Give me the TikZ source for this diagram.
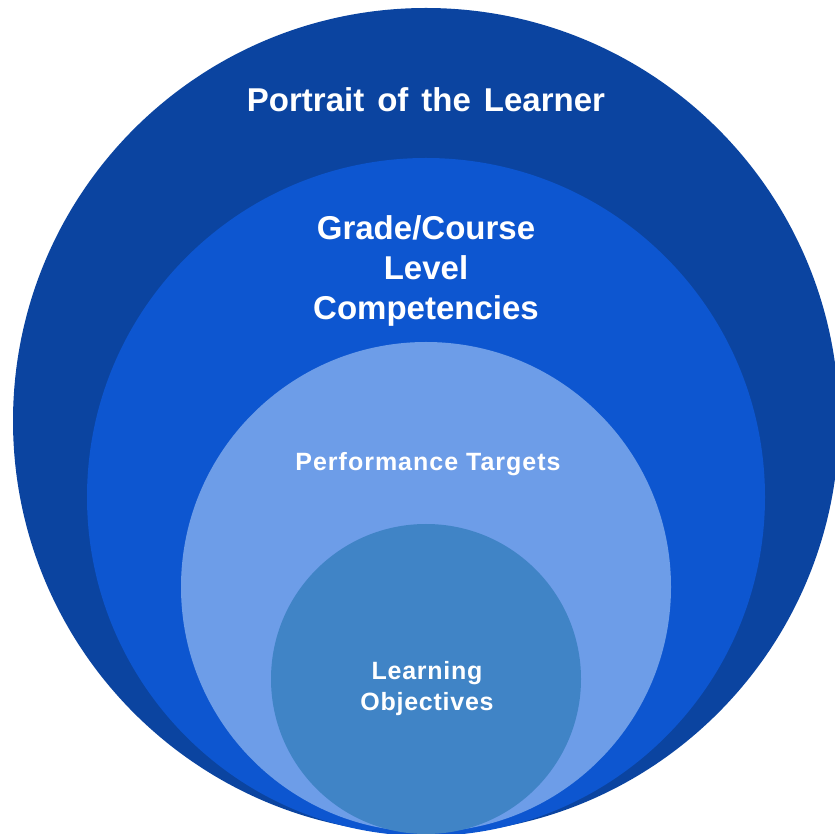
\documentclass[tikz,border=0pt]{standalone}
\usepackage{fontspec}
\setmainfont{Liberation Sans}
\definecolor{ringone}{HTML}{0B44A0}
\definecolor{ringtwo}{HTML}{0D56D0}
\definecolor{ringthree}{HTML}{6D9DE8}
\definecolor{ringfour}{HTML}{4084C6}
\begin{document}
\begin{tikzpicture}[x=1pt,y=1pt,
        ringtext/.style={text=white,align=center,inner sep=0pt}]
        \useasboundingbox (0,0) rectangle (835,833);
        %% portrait of the learner
        \fill[ringone] (426,412) circle (413);
        %% grade/course level
        \fill[ringtwo] (426,336) circle (339);
        %% performance targets
        \fill[ringthree] (426,246) circle (245);
        %% learning objectives
        \fill[ringfour] (426,154) circle (155);
        %% texts
        \node[ringtext,font=\bfseries\fontsize{33}{40}\selectfont] (P) at (426,733) {Portrait\hspace{13pt}of\hspace{13pt}the\hspace{13pt}Learner};
        \node[ringtext,font=\bfseries\fontsize{33}{40}\selectfont] (G) at (426,562) {Grade/Course\\Level\\Competencies};
        \node[ringtext,font={\bfseries\fontsize{25}{31}\selectfont\addfontfeatures{LetterSpace=4}}] (T) at (428,369) {Performance Targets};
        \node[ringtext,font={\bfseries\fontsize{25}{31}\selectfont\addfontfeatures{LetterSpace=3}}] (L) at (427,144) {Learning\\Objectives};
    \end{tikzpicture}
\end{document}
